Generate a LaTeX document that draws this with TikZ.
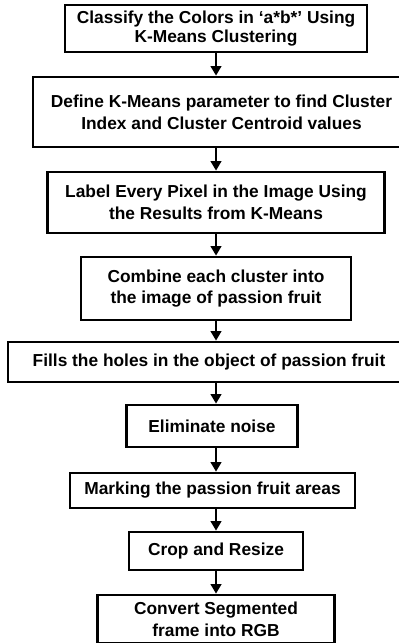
\documentclass[tikz,border=0pt]{standalone}
\usepackage{fontspec}
\setmainfont{Liberation Sans}
\usetikzlibrary{positioning,arrows.meta}
\tikzset{
	%style of the boxes
	pas/.style = {rectangle, draw=black, line width=2.4pt,
                           inner sep=0pt, align=center,
                           font=\bfseries\fontsize{14.8}{18.5}\selectfont,
                           text centered},
	fletxa/.style = {line width=1.7pt, -{Triangle[length=8pt, width=9pt]}}
}
\begin{document}
\begin{tikzpicture}[x=0.03cm, y=-0.03cm]
	\useasboundingbox (0,0) rectangle (399,643);
    	%nodes
    	\node[pas, minimum width=302*0.03cm, minimum height=47*0.03cm,
    		font=\bfseries\fontsize{14.8}{15.5}\selectfont] (1) at (216, 28.5)
    		{Classify the Colors in ‘a*b*’ Using\\K-Means Clustering};
    	\node[pas, minimum width=377*0.03cm, minimum height=70*0.03cm] (2) at (221.5, 112)
    		{Define K-Means parameter to find Cluster\\Index and Cluster Centroid values};
    	\node[pas, minimum width=337*0.03cm, minimum height=61*0.03cm] (3) at (216, 202.5)
    		{Label Every Pixel in the Image Using\\the Results from K-Means};
    	\node[pas, minimum width=270*0.03cm, minimum height=63*0.03cm] (4) at (216, 288.5)
    		{Combine each cluster into\\the image of passion fruit};
    	\node[pas, minimum width=402*0.03cm, minimum height=40*0.03cm] (5) at (209, 362)
    		{Fills the holes in the object of passion fruit};
    	\node[pas, minimum width=171*0.03cm, minimum height=42*0.03cm] (6) at (212, 426)
    		{Eliminate noise};
    	\node[pas, minimum width=285*0.03cm, minimum height=35*0.03cm] (7) at (212.5, 490.5)
    		{Marking the passion fruit areas};
    	\node[pas, minimum width=174*0.03cm, minimum height=38*0.03cm] (8) at (216, 551)
    		{Crop and Resize};
    	\node[pas, minimum width=237*0.03cm, minimum height=48*0.03cm] (9) at (216, 619)
    		{Convert Segmented\\frame into RGB};
    	%arrows
    	\draw[fletxa] (1.south) -- (1.south |- 2.north);
    	\draw[fletxa] (1.south |- 2.south) -- (1.south |- 3.north);
    	\foreach \a/\b in {3/4, 4/5, 5/6, 6/7, 7/8, 8/9}
    		\draw[fletxa] (1.south |- \a.south) -- (1.south |- \b.north);
\end{tikzpicture}
\end{document}
